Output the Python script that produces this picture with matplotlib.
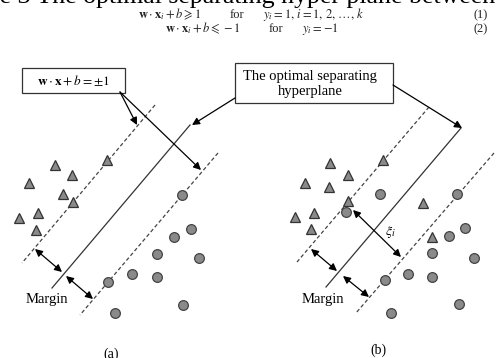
import matplotlib
matplotlib.use("Agg")
import matplotlib.pyplot as plt

plt.rcParams['font.family'] = ['Liberation Serif', 'DejaVu Serif']
plt.rcParams['mathtext.fontset'] = 'stix'

# points, in pixel units (x right, y down)
tri_a_x = [55, 72, 29, 63, 107, 73, 19, 38, 36]
tri_a_y = [165, 175, 183, 194, 160, 202, 218, 213, 230]
circ_a_x = [182, 191, 174, 157, 199, 132, 157, 108, 183, 115]
circ_a_y = [195, 229, 237, 254, 258, 274, 277, 282, 305, 313]

tri_b_x = [330, 348, 305, 329, 383, 348, 295, 314, 311, 423, 432]
tri_b_y = [163, 175, 183, 187, 160, 201, 217, 213, 229, 203, 237]
circ_b_x = [380, 457, 346, 449, 465, 432, 474, 408, 432, 385, 459, 391]
circ_b_y = [194, 194, 212, 236, 228, 253, 258, 274, 277, 280, 304, 313]

# lines: (x0, y0, x1, y1)
solid_lines = [(190, 125, 52, 288), (461, 128, 326, 287)]
dashed_lines = [(155, 105, 22, 263), (218, 153, 80, 315),
                (429, 107, 297, 262), (494, 153, 356, 313)]
margin_arrows = [(35, 249, 62, 272), (66, 276, 93, 299),
                 (311, 249, 337, 271), (343, 276, 369, 297)]
xi_arrow = (353, 210, 401, 257)
box_arrows = [(120, 92, 137, 125), (120, 92, 201, 170),
              (235, 98, 192, 125), (393, 85, 462, 128)]

fig = plt.figure(figsize=(4.96, 3.58), dpi=100)
ax = fig.add_axes([0, 0, 1, 1])
ax.set_xlim(0, 496)
ax.set_ylim(358, 0)
ax.axis('off')

# header text (cut at top)
ax.text(-9, 3, "re 3 The optimal separating hyper plane between", fontsize=18.6,
        va='baseline', ha='left', color='black')
eq = dict(fontsize=9, va='baseline', color='#222222')
ax.text(138, 18, r"$\mathbf{w}\cdot\mathbf{x}_i+b\geqslant 1$", **eq)
ax.text(230, 18, "for", **eq)
ax.text(263, 18, r"$y_i=1,\,i=1,\,2,\,\ldots,\,k$", **eq)
ax.text(473, 18, "(1)", **eq)
ax.text(165, 32, r"$\mathbf{w}\cdot\mathbf{x}_i+b\leqslant -1$", **eq)
ax.text(269, 32, "for", **eq)
ax.text(302, 32, r"$y_i=-1$", **eq)
ax.text(473, 32, "(2)", **eq)

for x0, y0, x1, y1 in solid_lines:
    ax.plot([x0, x1], [y0, y1], color='#333333', lw=0.9)
for x0, y0, x1, y1 in dashed_lines:
    ax.plot([x0, x1], [y0, y1], color='#444444', lw=0.9, ls=(0, (3, 2)))

for x0, y0, x1, y1 in margin_arrows + [xi_arrow]:
    ax.annotate("", xy=(x1, y1), xytext=(x0, y0),
                arrowprops=dict(arrowstyle='<|-|>', color='black', lw=0.9,
                                mutation_scale=11, shrinkA=0, shrinkB=0))
for x0, y0, x1, y1 in box_arrows:
    ax.annotate("", xy=(x1, y1), xytext=(x0, y0),
                arrowprops=dict(arrowstyle='-|>', color='black', lw=0.9,
                                mutation_scale=11, shrinkA=0, shrinkB=0))

for tx, ty, cx, cy in [(tri_a_x, tri_a_y, circ_a_x, circ_a_y),
                       (tri_b_x, tri_b_y, circ_b_x, circ_b_y)]:
    ax.plot(tx, ty, ls='none', marker='^', ms=7, mfc='#8a8a8a', mec='#333333', mew=0.9)
    ax.plot(cx, cy, ls='none', marker='o', ms=7, mfc='#8a8a8a', mec='#444444', mew=0.9)

# label boxes
ax.add_patch(plt.Rectangle((22, 68), 103, 25, fill=False, ec='#333333', lw=0.9))
ax.text(73, 81, r"$\mathbf{w}\cdot\mathbf{x}+b=\pm 1$", fontsize=9.5, ha='center', va='center')
ax.add_patch(plt.Rectangle((235, 63), 158, 40, fill=False, ec='#333333', lw=0.9))
ax.text(310, 84, "The optimal separating\nhyperplane", fontsize=10.5, ha='center',
        va='center', linespacing=1.15)

ax.text(47, 300, "Margin", fontsize=10.5, ha='center', va='center')
ax.text(323, 299, "Margin", fontsize=10.5, ha='center', va='center')
ax.text(390, 232, r"$\xi_i$", fontsize=10, ha='center', va='center')
ax.text(111, 354, "(a)", fontsize=10, ha='center', va='center')
ax.text(378, 350, "(b)", fontsize=10, ha='center', va='center')

fig.savefig("out.png", dpi=100)
